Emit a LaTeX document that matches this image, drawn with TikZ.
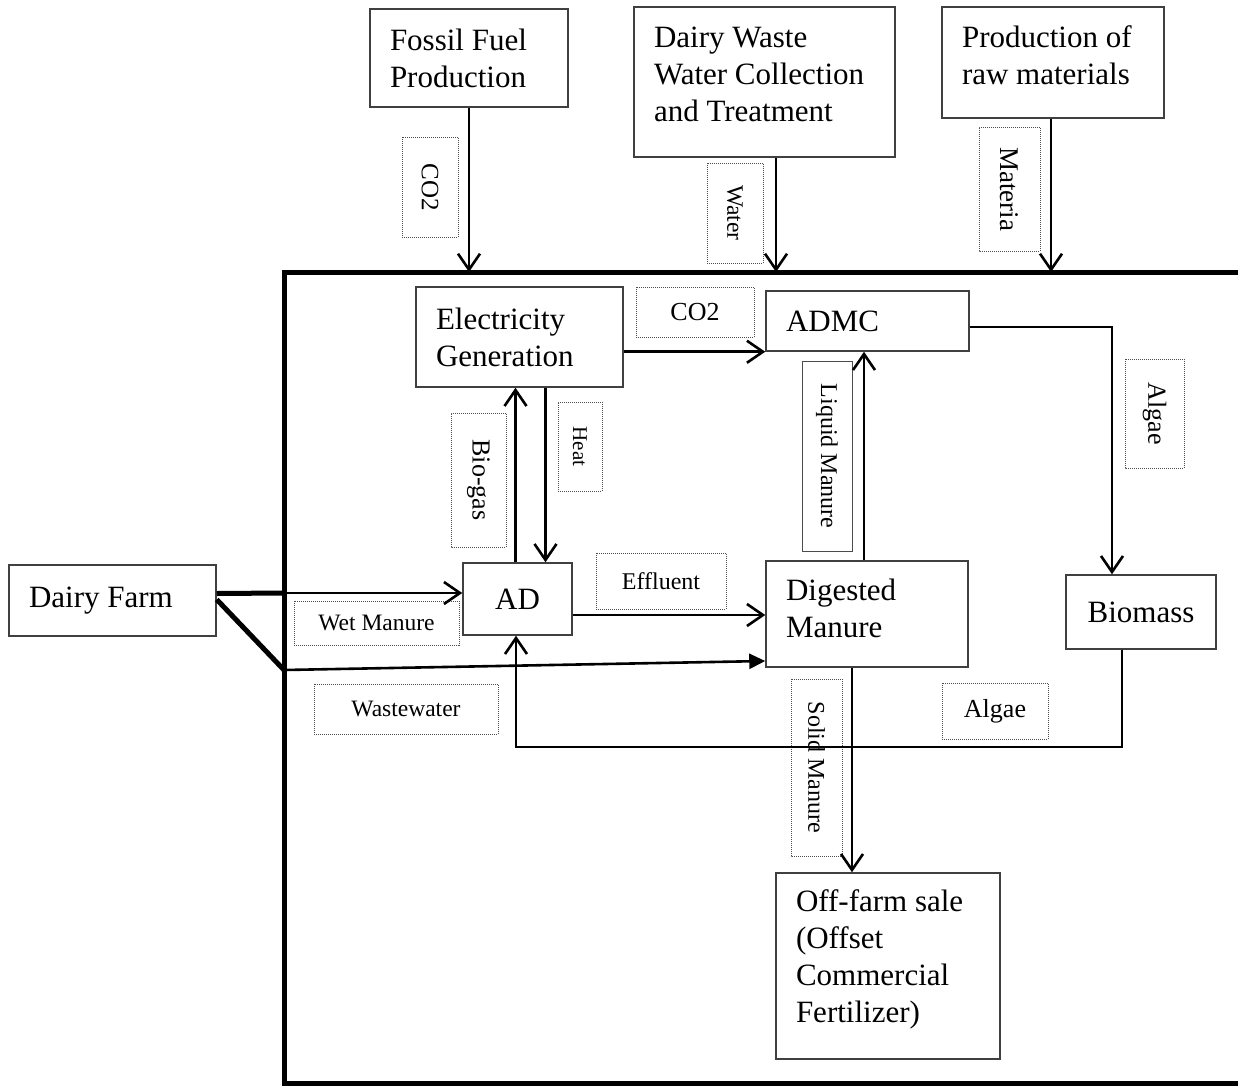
\documentclass[tikz,border=0pt]{standalone}
\usepackage{fontspec}
\setmainfont{Liberation Serif}
\usetikzlibrary{arrows.meta}
\newcommand\boxfont{\fontsize{31}{37}\selectfont}
\newcommand\tagsize[1]{\fontsize{#1}{#1}\selectfont}

\begin{document}
\begin{tikzpicture}[x=1pt,y=-1pt,
    box/.style={draw=black!75,line width=1.5pt,inner xsep=20pt,inner ysep=0pt,align=flush left,font=\boxfont},
    tag/.style={draw=black!70,line width=1pt,dash pattern=on 1pt off 1pt,inner sep=0pt,align=center},
    flow/.style={line width=2.6pt,-{Straight Barb[length=16pt,width=22pt]}},
    feed/.style={line width=5pt}]
    \useasboundingbox (0,0) rectangle (1238,1089);
    \clip (0,0) rectangle (1238,1089);

    % system boundary
    \draw[line width=5pt] (1260,272) -- (284,272) -- (284,1083) -- (1260,1083);

    % outside the boundary
    \node[box,text width=158pt,minimum height=98pt] (fossil) at (469,58) {Fossil Fuel\\Production};
    \node[box,text width=221pt,minimum height=150pt,text depth=90pt] (dww) at (764.5,82) {Dairy Waste\\Water Collection\\and Treatment};
    \node[box,text width=182pt,minimum height=111pt,text depth=51pt] (raw) at (1053,62.5) {Production of\\raw materials};
    \node[box,text width=167pt,minimum height=71pt] (farm) at (112.5,600.5) {Dairy Farm};

    % inside the boundary
    \node[box,text width=167pt,minimum height=100pt] (elec) at (519.5,337) {Electricity\\Generation};
    \node[box,text width=163pt,minimum height=60pt] (admc) at (867.5,321) {ADMC};
    \node[box,inner xsep=0pt,align=center,text width=109pt,minimum height=72pt] (ad) at (517.5,599) {AD};
    \node[box,text width=162pt,minimum height=106pt,text depth=49pt] (dig) at (867,614) {Digested\\Manure};
    \node[box,inner xsep=0pt,align=center,text width=150pt,minimum height=74pt] (bio) at (1141,612) {Biomass};
    \node[box,text width=184pt,minimum height=186pt,text depth=130pt] (sale) at (888,966) {Off-farm sale\\(Offset\\Commercial\\Fertilizer)};

    % flow labels
    \node[tag,rotate=-90,minimum width=100pt,minimum height=56pt,font=\tagsize{25}] (co2a) at (430,187) {CO2};
    \node[tag,rotate=-90,minimum width=100pt,minimum height=56pt,font=\tagsize{23.5}] (water) at (735,213) {Water};
    \node[tag,rotate=-90,minimum width=124pt,minimum height=61pt,font=\tagsize{27}] (materia) at (1009.5,189) {Materia};
    \node[tag,minimum width=118pt,minimum height=50pt,font=\tagsize{26}] (co2b) at (695,312) {CO2};
    \node[tag,rotate=-90,minimum width=134pt,minimum height=55pt,font=\tagsize{26}] (biogas) at (478.5,480) {Bio-gas};
    \node[tag,rotate=-90,minimum width=89pt,minimum height=44pt,font=\tagsize{21}] (heat) at (580,446.5) {Heat};
    \node[tag,solid,rotate=-90,minimum width=190pt,minimum height=50pt,font=\tagsize{24}] (liquid) at (827,456) {Liquid Manure};
    \node[tag,rotate=-90,minimum width=109pt,minimum height=59pt,font=\tagsize{26}] (algaer) at (1154.5,413.5) {Algae};
    \node[tag,minimum width=130pt,minimum height=56pt,font=\tagsize{24}] (effl) at (661,581) {Effluent};
    \node[tag,minimum width=165pt,minimum height=44pt,font=\tagsize{23.5}] (wet) at (376.5,623) {Wet Manure};
    \node[tag,minimum width=184pt,minimum height=50pt,font=\tagsize{23.5}] (waste) at (406,709) {Wastewater};
    \node[tag,rotate=-90,minimum width=177pt,minimum height=51pt,font=\tagsize{24}] (solid) at (816.5,767.5) {Solid Manure};
    \node[tag,minimum width=106pt,minimum height=56pt,font=\tagsize{26}] (algael) at (995,711) {Algae};

    % entry points on the boundary
    \coordinate (fin) at (469,272);
    \coordinate (win) at (776,272);
    \coordinate (min) at (1051,272);
    \coordinate (wmin) at (284,593);
    \coordinate (wwin) at (284,670);
    \coordinate (ret) at (516,747);

    \draw[flow] (fossil.south) -- (fin);
    \draw[flow] (dww.south -| win) -- (win);
    \draw[flow] (raw.south -| min) -- (min);

    \draw[feed] ([yshift=7pt]farm.east) -- (wmin);
    \draw[flow] (wmin) -- (wmin -| ad.west);
    \draw[feed] ([yshift=1pt]farm.east) -- (wwin);
    \draw[line width=2.6pt,-{Triangle[length=16pt,width=15pt]}] (wwin) -- ([yshift=-47pt]dig.west);

    \draw[flow] (admc.south west -| elec.east) -- (admc.south west);
    \draw[flow] ([yshift=-6pt]admc.east) -| ([xshift=-29pt]bio.north);
    \draw[flow] ([xshift=-3pt]dig.north) -- ([xshift=-3pt]dig.north |- admc.south);
    \draw[flow] ([xshift=-2pt]ad.north) -- ([xshift=-2pt]ad.north |- elec.south);
    \draw[flow] ([xshift=28pt]ad.north |- elec.south) -- ([xshift=28pt]ad.north);
    \draw[flow] ([yshift=-16pt]ad.east) -- ([yshift=-16pt]ad.east -| dig.west);
    \draw[flow] ([xshift=-19pt]bio.south) |- (ret) -- (ret |- ad.south);
    \draw[flow] ([xshift=-15pt]dig.south) -- ([xshift=-15pt]dig.south |- sale.north);
  \end{tikzpicture}
\end{document}
